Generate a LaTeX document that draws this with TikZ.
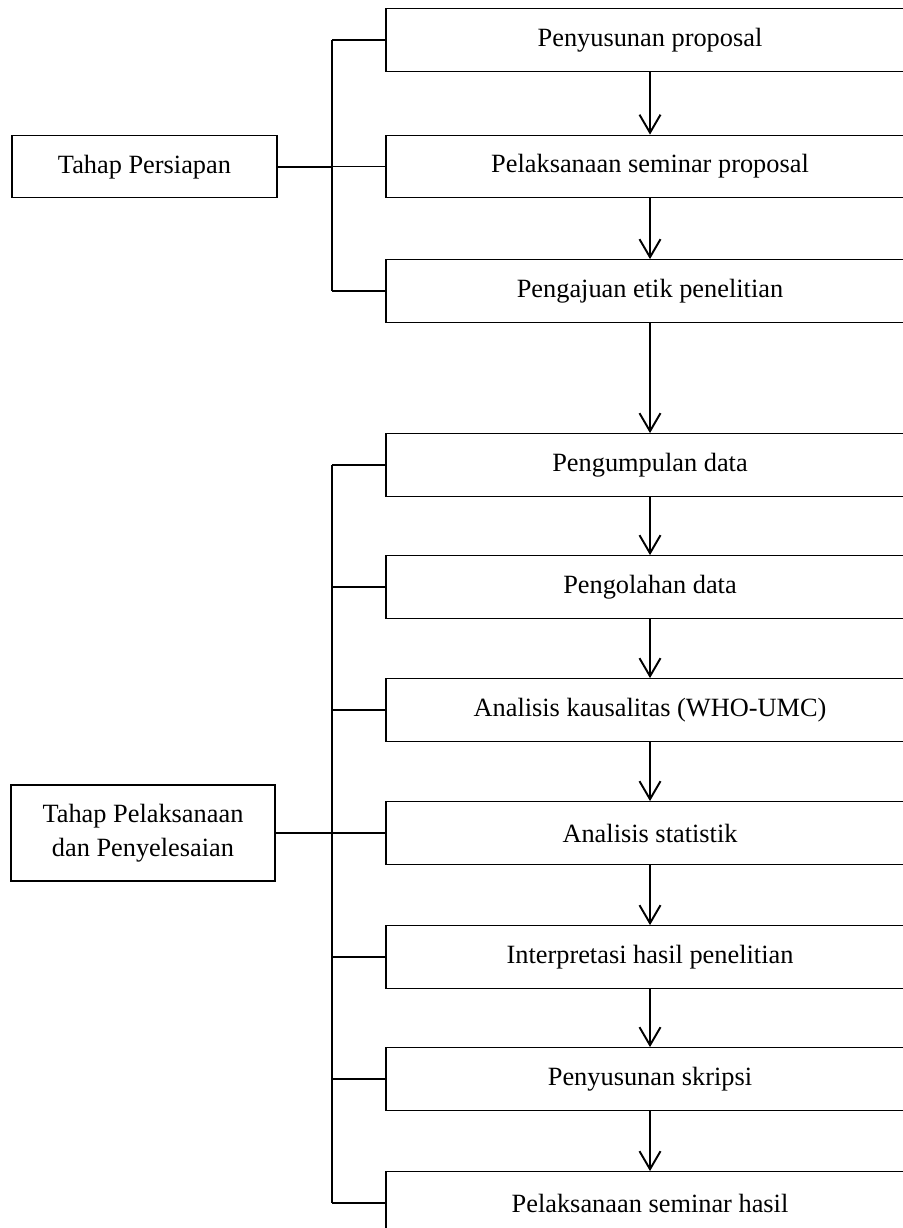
\documentclass[tikz,border=0pt]{standalone}
\usepackage{fontspec}
\setmainfont{Liberation Serif}
\usetikzlibrary{arrows.meta}

\tikzset{
  stage/.style={draw,line width=0.75pt,align=center,font=\fontsize{15}{19}\selectfont,inner sep=0pt},
  stepbox/.style={stage,minimum width=10.56cm,minimum height=1.25cm},
  link/.style={line width=1.1pt},
  flow/.style={line width=1.1pt,-{Straight Barb[length=0.36cm,width=0.42cm,line width=1.1pt]}}
}

\begin{document}
\begin{tikzpicture}[x=0.02cm,y=-0.02cm]
  \useasboundingbox (0,0) rectangle (903,1228);
  \clip (0,0) rectangle (903,1228);
  \node[stage,minimum width=5.3cm,minimum height=1.24cm] (persiapan) at (144.5,166.7) {Tahap Persiapan};
  \node[stage,minimum width=5.28cm,minimum height=1.92cm] (pelaksanaan) at (143,833) {Tahap Pelaksanaan\\dan Penyelesaian};
  \node[stepbox] (s1) at (650,40) {Penyusunan proposal};
  \node[stepbox] (s2) at (650,166.5) {Pelaksanaan seminar proposal};
  \node[stepbox] (s3) at (650,291) {Pengajuan etik penelitian};
  \node[stepbox] (s4) at (650,465) {Pengumpulan data};
  \node[stepbox] (s5) at (650,587) {Pengolahan data};
  \node[stepbox] (s6) at (650,710) {Analisis kausalitas (WHO-UMC)};
  \node[stepbox] (s7) at (650,833) {Analisis statistik};
  \node[stepbox] (s8) at (650,957) {Interpretasi hasil penelitian};
  \node[stepbox] (s9) at (650,1079) {Penyusunan skripsi};
  \node[stepbox] (s10) at (650,1203) {Pelaksanaan seminar hasil};
  \coordinate (trunk) at (332,0);
  \foreach \a/\b in {s1/s2,s2/s3,s3/s4,s4/s5,s5/s6,s6/s7,s7/s8,s8/s9,s9/s10}
    \draw[flow] (\a) -- (\b);
  \draw[link] (s1.west -| trunk) -- (s3.west -| trunk);
  \draw[link] (s4.west -| trunk) -- (s10.west -| trunk);
  \foreach \s in {s1,s2,s3,s4,s5,s6,s7,s8,s9,s10}
    \draw[link] (\s.west -| trunk) -- (\s.west);
  \draw[link] (persiapan.east) -- (persiapan.east -| trunk);
  \draw[link] (pelaksanaan.east) -- (pelaksanaan.east -| trunk);
\end{tikzpicture}
\end{document}
